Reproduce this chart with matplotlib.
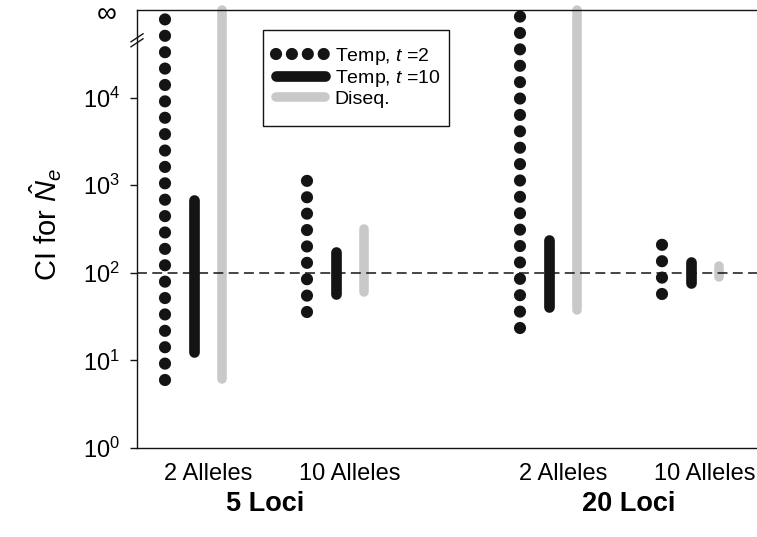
import numpy as np
import matplotlib
matplotlib.use("Agg")
import matplotlib.pyplot as plt
from matplotlib.lines import Line2D
from matplotlib.patches import Rectangle

plt.rcParams["font.family"] = ["Liberation Sans", "DejaVu Sans"]
plt.rcParams["mathtext.fontset"] = "custom"
plt.rcParams["mathtext.rm"] = "Liberation Sans"
plt.rcParams["mathtext.it"] = "Liberation Sans:italic"
plt.rcParams["mathtext.bf"] = "Liberation Sans:bold"

# Confidence intervals for Ne (true Ne = 100); np.inf = unbounded upper limit
allele_labels = ["2 Alleles", "10 Alleles", "2 Alleles", "10 Alleles"]
loci_labels = ["5 Loci", "20 Loci"]
temp2_lo = [6.0, 36, 23.5, 58]
temp2_hi = [np.inf, 1200, np.inf, 215]
temp10_lo = [12.4, 57, 41, 76]
temp10_hi = [680, 173, 238, 132]
diseq_lo = [6.1, 60, 37.6, 89]
diseq_hi = [np.inf, 318, np.inf, 121]
true_ne = 100

group_x = np.array([1.0, 2.0, 3.5, 4.5])
loci_x = [1.4, 3.96]
INF_Y = 1e5

BLACK = "#141414"
GREY = "#c9c9cb"

W, H = 757, 537
fig = plt.figure(figsize=(W / 100, H / 100), dpi=100)
ax = fig.add_axes([137 / W, 1 - 448 / H, 620 / W, 438 / H])
ax.set_yscale("log")
ax.set_ylim(1, INF_Y)
ax.set_xlim(0.5, 0.5 + 620 / 142)


def top(v):
    return INF_Y if np.isinf(v) else v


dot_style = dict(color=BLACK, lw=8.8, linestyle=(0, (0.001, 1.34)),
                 dash_capstyle="round", clip_on=False, zorder=3)
black_style = dict(color=BLACK, lw=7.7, solid_capstyle="round",
                   clip_on=False, zorder=3)
grey_style = dict(color=GREY, lw=6.9, solid_capstyle="round",
                  clip_on=False, zorder=2)

for i, x in enumerate(group_x):
    ax.plot([x - 0.3, x - 0.3], [temp2_lo[i], top(temp2_hi[i])], **dot_style)
    ax.plot([x - 0.1, x - 0.1], [temp10_lo[i], top(temp10_hi[i])], **black_style)
    ax.plot([x + 0.1, x + 0.1], [diseq_lo[i], top(diseq_hi[i])], **grey_style)

ax.axhline(true_ne, color=BLACK, lw=1.1, linestyle=(0, (6.5, 3.5)), zorder=4)

# axes frame: left, top and bottom only
for side in ["left", "top", "bottom"]:
    ax.spines[side].set_linewidth(1.0)
    ax.spines[side].set_color(BLACK)
ax.spines["right"].set_visible(False)

ax.set_yticks([1, 10, 100, 1000, 10000])
ax.set_yticklabels([r"$10^{%d}$" % k for k in range(5)])
ax.yaxis.set_minor_locator(matplotlib.ticker.NullLocator())
ax.tick_params(axis="y", length=5, width=1.0, pad=7, labelsize=17, color=BLACK)
ax.text(-30 / 620, 1.0 - 5 / 438, "\u221e", transform=ax.transAxes,
        ha="center", va="center", fontsize=20)

# axis break marks
for dy in (0.0, 5.0):
    y0 = 0.932 + (dy - 3) / 438
    ax.plot([-6 / 620, 6 / 620], [y0 - 4 / 438, y0 + 4 / 438],
            transform=ax.transAxes, color=BLACK, lw=1.0, clip_on=False)

ax.set_xticks(group_x)
ax.set_xticklabels(allele_labels)
ax.tick_params(axis="x", length=0, pad=11, labelsize=17)
for lx, lab in zip(loci_x, loci_labels):
    ax.text(lx, -56 / 438, lab, transform=ax.get_xaxis_transform(),
            ha="center", va="center", fontsize=19.5, fontweight="bold")

ax.set_ylabel(r"CI for $\hat{N}_e$", fontsize=21)
ax.yaxis.set_label_coords(-73 / 620, 0.51)

# legend: framed box with the entries placed inside
fig.add_artist(Rectangle((263 / W, 1 - 126 / H), 186 / W, 96 / H,
                         transform=fig.transFigure, facecolor="white",
                         edgecolor=BLACK, lw=1.0, zorder=5))
legend_dots = dict(dot_style, linestyle=(0, (0.001, 1.3)))
handles = [
    Line2D([], [], **{k: v for k, v in legend_dots.items() if k != "clip_on"}),
    Line2D([], [], **{k: v for k, v in black_style.items() if k != "clip_on"}),
    Line2D([], [], **{k: v for k, v in grey_style.items() if k != "clip_on"}),
]
leg = fig.legend(handles, [r"Temp, $t$ =2", r"Temp, $t$ =10", "Diseq."],
                 loc="center left", bbox_to_anchor=(276 / W, 1 - 77 / H),
                 bbox_transform=fig.transFigure, borderaxespad=0,
                 fontsize=14, handlelength=2.5, handletextpad=0.52,
                 labelspacing=0.06, borderpad=0, frameon=False)
leg.set_zorder(6)

fig.savefig("out.png", dpi=100)
